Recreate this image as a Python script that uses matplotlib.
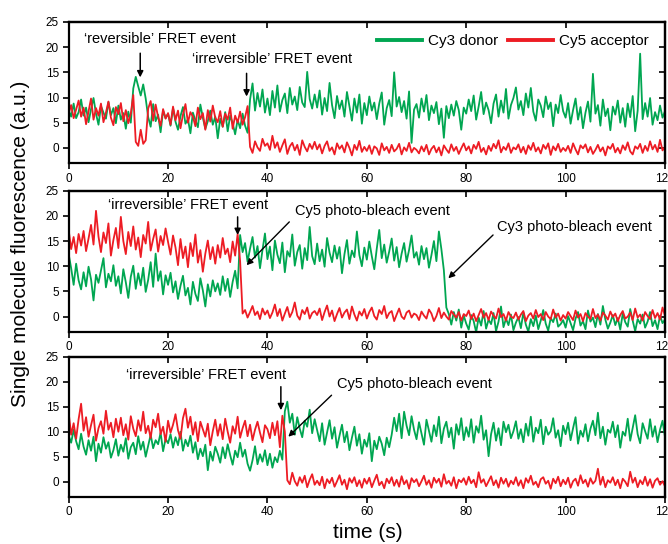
import numpy as np
import matplotlib
matplotlib.use("Agg")
import matplotlib.pyplot as plt

plt.rcParams["font.family"] = ["Liberation Sans", "DejaVu Sans"]

# time step of the traces (s)
dt = 0.5

## panel 1 - reversible + irreversible FRET
g1 = [7.5, 6.2, 8.8, 5.9, 7.1, 9.6, 6.4, 8.0, 5.1, 7.7, 9.9, 6.8, 4.6, 8.3, 7.0, 5.8, 9.1, 6.5, 7.9, 4.9,
      8.4, 5.6, 6.9, 3.8, 7.2, 5.0, 11.8, 14.1, 12.2, 10.4, 12.6, 9.8, 6.1, 4.2, 8.7, 5.3, 6.6, 3.1, 7.4, 5.9,
      6.8, 4.4, 7.9, 5.2, 3.6, 6.3, 8.1, 4.8, 5.7, 2.9, 7.0, 5.5, 4.1, 8.6, 6.0, 3.8, 5.3, 7.4, 4.6, 6.2,
      1.9, 5.8, 4.2, 7.1, 3.3, 6.4, 4.9, 2.7, 5.6, 3.9, 6.8, 4.4, 3.0, 9.6, 12.8, 7.4, 10.9, 8.2, 11.6, 7.0,
      9.8, 6.5, 11.3, 8.0, 12.4, 7.2, 9.5, 10.8, 6.9, 11.9, 8.6, 10.2, 7.5, 12.1, 9.0, 8.1, 15.1, 9.7, 7.8, 10.6,
      8.0, 11.4, 6.6, 9.9, 7.3, 12.9, 8.5, 5.9, 10.3, 7.7, 9.4, 6.2, 11.1, 8.3, 5.4, 9.8, 7.0, 10.6, 4.8, 8.9,
      6.5, 10.2, 7.4, 9.0, 5.7, 8.8, 11.0, 4.6, 7.9, 9.5, 6.3, 15.0, 8.2, 10.1, 7.1, 9.3, 5.8, 11.2, 1.0, 7.6,
      8.7, 6.0, 9.8, 7.2, 10.5, 5.5, 8.4, 6.9, 9.1, 4.7, 7.8, 2.0, 8.3, 5.9, 8.6, 6.4, 9.3, 7.5, 3.6, 8.0,
      6.8, 9.6, 7.3, 10.4, 5.6, 8.2, 11.1, 6.7, 9.0, 7.5, 4.9, 8.8, 10.6, 6.2, 9.4, 7.0, 11.7, 5.8, 8.5, 9.9,
      12.0, 7.6, 9.3, 6.5, 10.8, 8.0, 11.9, 7.2, 5.4, 9.6, 8.4, 6.1, 10.2, 7.7, 9.0, 4.3, 8.6, 6.9, 10.5, 7.3,
      6.0, 8.9, 4.8, 7.5, 9.8, 5.6, 8.1, 3.9, 7.0, 9.2, 5.2, 14.7, 6.8, 8.5, 4.4, 9.6, 6.3, 7.8, 3.5, 8.2,
      6.6, 9.4, 5.0, 7.9, 4.2, 8.8, 6.1, 10.3, 3.3, 7.4, 18.7, 5.7, 8.9, 6.2, 9.9, 4.6, 7.1, 5.5, 8.4, 6.0,
      7.3, 5.2, 8.6]
r1 = [6.8, 8.5, 5.9, 7.6, 9.4, 6.2, 8.0, 4.7, 7.3, 9.8, 5.6, 7.9, 6.4, 8.8, 5.1, 7.0, 9.2, 6.0, 4.5, 8.1,
      6.7, 8.9, 5.3, 7.5, 4.9, 6.8, 10.5, 1.2, 0.4, 3.6, 0.8, 1.5, 7.8, 9.3, 5.4, 8.6, 6.1, 4.4, 7.7, 5.8,
      6.9, 4.6, 8.2, 5.5, 7.4, 3.9, 6.6, 8.7, 5.0, 7.1, 6.2, 4.3, 8.0, 5.7, 6.9, 3.6, 7.5, 5.2, 8.4, 6.0,
      5.1, 7.3, 4.2, 6.8, 5.6, 8.0, 3.8, 6.4, 5.0, 7.2, 4.6, 6.1, 8.3, 0.2, -1.0, 1.3, 0.1, -0.6, 1.8, 0.4,
      0.9, -0.4, 2.4, 0.0, 1.1, -0.8, 0.5, 1.7, -1.2, 0.3, 1.0, -0.5, 0.6, -1.4, 1.5, 0.2, -0.7, 0.8, -0.2, 1.2,
      -0.3, 0.7, -1.1, 0.4, 1.3, -0.6, 0.1, -1.3, 0.9, -0.2, 0.5, -0.9, 1.1, 0.0, -1.5, 0.6, -0.4, 1.4, -0.8, 0.2,
      -0.6, 0.5, -1.2, 0.3, -0.1, -1.4, 0.9, -0.5, 0.2, -1.0, 0.6, -0.7, -0.2, 0.8, -1.3, 0.1, -0.6, 1.0, -0.9, 0.0,
      -0.4, -1.1, 0.3, -0.7, 0.6, -1.3, -0.2, 0.4, -0.9, 0.1, -1.5, 0.5, -0.3, -1.0, 0.7, -0.6, 0.2, -1.2, -0.1, 0.9,
      -0.5, 0.3, -1.1, 0.6, -0.2, 1.2, -0.8, 0.0, -1.3, 0.4, -0.6, 0.8, -0.1, 1.5, -0.9, 0.2, -0.4, 0.9, -1.0, 0.1,
      -0.3, 0.7, -0.9, 0.2, -1.2, 0.5, -0.4, 1.0, -0.7, 0.1, -1.1, 0.6, -0.2, 0.9, -1.4, 0.3, -0.5, 0.8, -0.8, 0.0,
      -0.6, 0.4, -1.0, 0.9, -0.3, -1.3, 0.5, -0.1, 0.7, -0.9, 0.2, -1.2, -0.4, 0.6, -0.7, 0.1, -1.5, 0.3, -0.2, 0.8,
      -0.9, 0.0, -1.1, 0.5, -0.4, 1.1, -0.7, -1.3, 0.3, -0.2, 0.8, -1.0, 0.4, -0.6, 1.3, -0.3, 0.6, -0.8, 1.6, -0.5,
      0.2, -0.9, 0.7]

## panel 2 - irreversible FRET, then Cy5 and Cy3 bleach
g2 = [12.4, 9.6, 6.3, 10.5, 7.2, 5.4, 8.8, 6.0, 9.9, 7.4, 3.2, 8.3, 6.7, 9.1, 11.6, 5.8, 8.5, 7.0, 10.2, 6.1,
      8.0, 4.6, 9.4, 6.8, 3.7, 7.9, 10.1, 5.5, 8.6, 6.2, 9.7, 4.9, 7.3, 10.8, 5.9, 12.5, 7.1, 9.0, 4.4, 8.2,
      6.3, 8.7, 4.8, 7.0, 3.5, 6.1, 8.1, 4.2, 5.7, 2.4, 6.9, 4.5, 3.1, 7.6, 5.2, 2.0, 6.4, 4.0, 7.2, 5.0,
      6.6, 4.3, 8.0, 5.1, 7.5, 3.9, 6.9, 9.1, 5.6, 16.2, 12.8, 14.6, 10.9, 13.5, 15.8, 11.7, 14.0, 9.6, 13.2, 16.5,
      11.4, 13.9, 9.2, 15.1, 12.3, 10.6, 14.7, 8.8, 13.0, 11.9, 16.3, 10.1, 12.8, 14.2, 9.5, 13.6, 11.2, 17.8, 12.0, 10.4,
      14.5, 11.0, 13.3, 9.9, 15.6, 12.7, 10.8, 14.1, 11.5, 13.8, 8.6, 12.4, 15.2, 10.5, 13.1, 11.8, 16.9, 12.2, 10.0, 13.7,
      11.3, 14.9, 12.0, 9.4, 13.5, 17.2, 11.6, 14.3, 10.7, 12.9, 15.5, 11.1, 13.8, 9.8, 12.5, 14.6, 10.9, 13.2, 16.1, 11.7,
      12.8, 10.3, 14.0, 11.4, 13.6, 9.7, 12.2, 15.0, 11.0, 16.9, 13.4, 9.2, 1.8, 0.5, -1.6, 0.9, -0.8, 1.4, -2.2, 0.2,
      -1.4, -2.6, 0.3, -0.9, -3.1, -0.2, -1.8, 1.1, -2.4, -0.6, -1.5, 0.7, -2.9, -1.0, 2.0, -2.1, -0.4, -1.7, 0.4, -2.7,
      -1.2, -0.1, -2.3, 0.8, -1.6, -3.0, -0.5, -1.9, 0.2, -2.5, -0.8, 1.3, -1.4, -2.8, -0.3, -1.1, 0.6, -2.0, -1.5, -0.7,
      -2.2, 0.1, -1.3, -2.7, -0.4, 0.9, -1.8, -0.9, -2.5, 1.2, -1.0, -0.2, -2.1, 0.5, -1.6, 2.1, -0.6, -2.4, -1.2, 0.3,
      -1.7, -0.3, -2.6, 0.6, -1.1, -2.0, 1.5, -0.8, -2.9, -0.5, -1.4, 0.4, -2.2, -1.0, 0.9, -1.9, -0.7, -2.5, 0.2, -1.3,
      -0.6, -2.1, 0.8]
r2 = [17.2, 13.4, 15.8, 12.6, 16.4, 14.1, 17.0, 13.0, 15.5, 18.2, 14.3, 21.0, 15.9, 12.8, 16.7, 14.6, 18.5, 12.1, 15.2, 17.6,
      13.6, 19.8, 15.0, 12.4, 16.8, 14.0, 17.9, 13.3, 15.7, 11.8, 16.2, 14.5, 18.8, 13.1, 15.4, 17.3, 12.9, 16.0, 14.2, 17.5,
      14.8, 12.3, 16.1, 13.7, 10.2, 15.4, 11.6, 13.9, 9.8, 14.6, 12.0, 16.3, 10.7, 13.2, 8.9, 12.5, 15.1, 11.4, 13.8, 10.5,
      14.2, 11.7, 15.6, 12.4, 13.5, 10.8, 14.9, 12.1, 16.4, 11.0, 0.6, 1.3, -0.2, 0.9, 2.1, 0.3, 1.0, -0.5, 1.6, 0.4,
      1.2, -0.3, 0.8, 2.4, 0.1, 1.5, -0.8, 0.6, 1.9, -0.1, 0.9, 2.8, 0.2, -0.6, 1.3, 0.5, 1.8, -0.4, 0.7, 1.1,
      0.3, 1.6, -0.7, 0.9, 2.2, 0.0, 1.2, -0.9, 0.5, 1.7, -0.2, 0.8, 1.4, -0.5, 2.0, 0.4, -0.8, 1.0, 0.2, 1.5,
      -0.4, 0.9, 1.8, 0.1, -0.6, 1.3, 0.5, 2.1, -0.3, 0.7, 1.1, -0.9, 0.4, 1.6, 0.0, -0.5, 0.8, 1.2, -0.2, 0.6,
      0.3, -0.7, 1.0, 0.2, -0.4, 1.4, 0.6, -0.9, 0.1, 1.7, -0.3, 0.8, 0.0, -0.6, 1.1, 0.4, -0.2, 0.9, -0.8, 0.5,
      0.1, 1.2, -0.5, 0.6, -0.9, 0.3, 1.5, -0.2, 0.7, -0.7, 1.0, 0.2, -0.4, 1.6, -0.1, 0.5, -0.8, 0.9, 0.0, -0.3,
      0.8, -0.6, 0.4, 1.1, -0.9, 0.2, 0.7, -0.4, 1.3, -0.1, 0.5, -0.7, 0.9, 0.0, -0.5, 1.4, -0.2, 0.6, -0.8, 0.3,
      -0.4, 0.9, 0.1, -0.7, 1.2, -0.2, 0.5, -0.9, 0.7, 0.0, -0.5, 1.5, -0.3, 0.4, -0.8, 0.8, 0.2, -0.6, 1.0, -0.1,
      0.6, -0.9, 0.3, 1.1, -0.4, 0.0, 0.8, -0.7, 1.6, -0.2, 0.4, -0.8, 0.9, 0.1, -0.5, 1.3, -0.3, 0.7, -0.6, 1.8,
      0.2, -0.4, 0.9]

## panel 3 - irreversible FRET, then Cy5 bleach
g3 = [9.2, 7.8, 10.4, 8.1, 6.5, 9.6, 7.0, 5.4, 8.3, 6.2, 9.0, 4.1, 7.6, 5.8, 8.9, 6.6, 7.9, 4.8, 6.3, 8.5,
      5.2, 7.4, 6.0, 8.7, 4.6, 6.9, 7.8, 5.5, 9.1, 6.4, 8.0, 5.0, 7.2, 9.4, 6.7, 8.3, 7.5, 9.8, 6.1, 8.6,
      7.7, 9.5, 6.8, 8.9, 7.3, 10.0, 6.2, 8.4, 7.1, 9.2, 5.8, 7.9, 4.5, 6.6, 5.1, 7.4, 2.3, 6.0, 4.2, 7.0,
      5.6, 3.8, 6.9, 4.7, 7.5, 5.3, 3.4, 6.2, 4.9, 7.8, 5.0, 6.4, 3.6, 2.2, 4.3, 7.1, 3.5, 5.5, 4.0, 6.3,
      3.3, 5.6, 2.8, 4.9, 3.9, 6.2, 4.4, 14.1, 16.0, 11.8, 13.6, 9.4, 12.9, 10.6, 8.9, 12.2, 11.0, 14.4, 9.7, 12.5,
      10.3, 8.1, 11.7, 7.4, 9.8, 12.3, 8.6, 10.9, 6.8, 9.2, 11.4, 7.9, 10.0, 6.3, 8.8, 11.0, 7.2, 9.5, 5.6, 8.4,
      7.0, 9.7, 4.1, 8.2, 6.5, 9.0, 7.6, 5.3, 8.8, 6.9, 9.4, 12.8, 10.1, 13.6, 8.7, 14.0, 11.2, 9.3, 13.1, 10.4,
      8.5, 11.9, 9.6, 7.4, 12.4, 10.2, 8.0, 11.3, 9.1, 13.0, 7.7, 10.6, 12.0, 8.9, 10.8, 6.6, 11.5, 9.4, 12.7, 8.3,
      10.9, 9.0, 12.5, 7.8, 11.1, 9.8, 13.2, 8.4, 10.3, 5.1, 9.5, 11.8, 8.2, 10.7, 7.3, 12.0, 9.9, 11.4, 8.7, 10.1,
      12.1, 8.6, 10.5, 7.9, 11.6, 9.2, 13.0, 8.0, 10.8, 9.7, 12.4, 7.5, 11.0, 9.4, 10.1, 12.7, 8.8, 10.3, 7.1, 11.2,
      9.5, 11.8, 8.3, 10.7, 12.9, 7.6, 10.2, 9.0, 11.5, 8.1, 10.6, 12.2, 9.3, 13.8, 8.7, 11.0, 7.4, 10.4, 9.8, 12.0,
      8.9, 11.3, 6.8, 10.0, 9.2, 12.6, 8.2, 10.8, 13.3, 9.5, 7.7, 11.7, 10.1, 8.6, 12.5, 9.0, 11.1, 7.9, 10.4, 12.2,
      9.0, 11.5, 8.3]
r3 = [13.8, 9.4, 11.7, 8.6, 12.5, 15.6, 10.2, 12.9, 9.0, 11.3, 13.4, 8.2, 10.7, 12.1, 9.6, 14.2, 10.4, 11.8, 8.9, 12.6,
      10.0, 12.8, 9.3, 11.5, 8.4, 13.1, 10.6, 9.1, 12.3, 10.2, 14.0, 9.7, 11.2, 8.7, 12.4, 10.9, 13.6, 9.5, 11.0, 8.0,
      12.2, 9.8, 11.4, 13.5, 10.3, 8.6, 12.7, 14.6, 10.8, 13.0, 9.4, 11.9, 8.1, 12.0, 10.5, 9.0, 11.6, 7.3, 10.1, 12.4,
      9.2, 11.5, 8.5, 12.6, 10.0, 7.8, 11.1, 9.6, 13.0, 8.8, 10.7, 12.2, 9.1, 11.4, 8.3, 10.4, 12.0, 9.8, 7.9, 11.3,
      10.5, 8.7, 11.8, 9.3, 12.1, 6.9, 13.2, 10.0, 0.3, -0.5, 1.8, 0.1, -0.8, 0.9, -0.2, 1.2, -1.1, 0.4, 1.5, -0.6,
      0.2, -0.7, 1.0, -1.3, 0.5, -0.3, 0.8, -1.0, 0.1, 1.3, -0.6, 0.4, -1.5, 0.7, -0.2, 0.9, -0.9, 0.3, -1.2, 0.6,
      -0.4, 0.8, -1.1, 0.2, 1.4, -0.7, 0.0, -1.3, 0.6, -0.3, 0.9, -0.8, 0.4, -1.0, 1.1, -0.5, 0.3, -1.4, 0.7, -0.1,
      0.5, -0.9, 0.1, 1.2, -0.6, 0.3, -1.2, 0.8, -0.2, 0.6, -1.0, 1.5, -0.4, 0.2, -0.8, 0.9, -1.3, 0.4, -0.1, 0.7,
      -0.6, 1.0, -0.3, 0.4, -1.1, 1.9, -0.2, 0.5, -0.9, 0.1, 1.1, -0.7, 0.3, -1.2, 0.8, -0.4, 0.6, -1.0, 0.2, -0.5,
      0.9, -0.8, 0.3, -1.3, 0.7, -0.2, 1.2, -0.6, 0.0, -1.1, 0.5, 0.9, -0.4, 0.2, -1.4, 0.6, -0.3, 1.0, -0.9, 0.4,
      -0.5, 0.8, -1.2, 0.1, 0.6, -0.8, 1.3, -0.3, 0.4, -1.0, 0.7, -0.4, 0.2, 2.6, -0.6, 1.0, -1.1, 0.3, -0.2, 0.9,
      -0.7, 0.4, -1.3, 0.6, 0.0, -0.9, 2.0, -0.2, 0.8, -1.1, 0.3, -0.5, 1.0, -0.8, 0.5, -1.2, 0.2, 0.7, -0.6, 0.1,
      -0.9, 0.4, -0.3]

xticks = [0, 20, 40, 60, 80, 100, 120]
yticks = [0, 5, 10, 15, 20, 25]

green = "#00a651"
red = "#ed1c24"

fig = plt.figure(figsize=(6.68, 5.44), dpi=100)
left, width = 0.1028, 0.8927
axes = [fig.add_axes([left, 0.7004, width, 0.2592]),
        fig.add_axes([left, 0.3903, width, 0.2592]),
        fig.add_axes([left, 0.0869, width, 0.2574])]

traces = [(g1, r1), (g2, r2), (g3, r3)]
for ax, (g, r) in zip(axes, traces):
    t = np.arange(len(g)) * dt
    ax.plot(t, g, color=green, lw=1.3, label="Cy3 donor")
    ax.plot(t, r, color=red, lw=1.3, label="Cy5 acceptor")
    ax.set_xlim(0, 120)
    ax.set_ylim(-3, 25)
    ax.set_xticks(xticks)
    ax.set_yticks(yticks)
    ax.tick_params(axis="both", which="both", labelsize=8.5, length=4, width=1.2,
                   direction="out", pad=3, colors="black")
    ax.secondary_xaxis("top").tick_params(direction="in", labeltop=False, length=4, width=1.2)
    for sec in ax.child_axes:
        sec.set_xticks(xticks)
        sec.set_xticklabels([])
        sec.spines["top"].set_linewidth(1.6)
    sy = ax.secondary_yaxis("right")
    sy.set_yticks(yticks)
    sy.set_yticklabels([])
    sy.tick_params(direction="in", length=4, width=1.2)
    sy.spines["right"].set_linewidth(1.6)
    for s in ax.spines.values():
        s.set_linewidth(1.6)

fs = 10.5
arrow_v = dict(arrowstyle="-|>", color="black", lw=1.1, mutation_scale=9, shrinkA=0, shrinkB=0)
arrow_d = dict(arrowstyle="-|>", color="black", lw=1.0, mutation_scale=9, shrinkA=0, shrinkB=0)

# panel 1
a = axes[0]
a.text(18.4, 21.6, "\u2018reversible\u2019 FRET event", fontsize=fs, ha="center", va="center")
a.annotate("", xy=(14.4, 14.0), xytext=(14.4, 18.8), arrowprops=arrow_v)
a.text(41.0, 17.7, "\u2018irreversible\u2019 FRET event", fontsize=fs, ha="center", va="center")
a.annotate("", xy=(35.8, 10.2), xytext=(35.8, 14.8), arrowprops=arrow_v)
a.legend(loc="center left", bbox_to_anchor=(0.5165, 0.865), ncol=2, frameon=False,
         fontsize=11, handlelength=2.95, handletextpad=0.4, columnspacing=0.65,
         borderpad=0, borderaxespad=0)
for h in a.get_legend().legend_handles:
    h.set_linewidth(2.8)

# panel 2
a = axes[1]
a.text(24.0, 22.2, "\u2018irreversible\u2019 FRET event", fontsize=fs, ha="center", va="center")
a.annotate("", xy=(34.0, 16.2), xytext=(34.0, 19.8), arrowprops=arrow_v)
a.text(45.5, 21.0, "Cy5 photo-bleach event", fontsize=fs, ha="left", va="center")
a.annotate("", xy=(35.8, 10.2), xytext=(44.4, 18.8), arrowprops=arrow_d)
a.text(86.1, 17.8, "Cy3 photo-bleach event", fontsize=fs, ha="left", va="center")
a.annotate("", xy=(76.4, 7.6), xytext=(85.4, 16.2), arrowprops=arrow_d)

# panel 3
a = axes[2]
a.text(27.6, 21.3, "\u2018irreversible\u2019 FRET event", fontsize=fs, ha="center", va="center")
a.annotate("", xy=(42.7, 14.3), xytext=(42.7, 19.0), arrowprops=arrow_v)
a.text(53.9, 19.5, "Cy5 photo-bleach event", fontsize=fs, ha="left", va="center")
a.annotate("", xy=(44.2, 9.0), xytext=(52.9, 17.3), arrowprops=arrow_d)

fig.text(0.03, 1 - 244 / 544, "Single molecule fluorescence (a.u.)", rotation=90,
         fontsize=15, ha="center", va="center")
fig.text(368 / 668, 1 - 533 / 544, "time (s)", fontsize=15, ha="center", va="center")

fig.savefig("out.png", dpi=100)
